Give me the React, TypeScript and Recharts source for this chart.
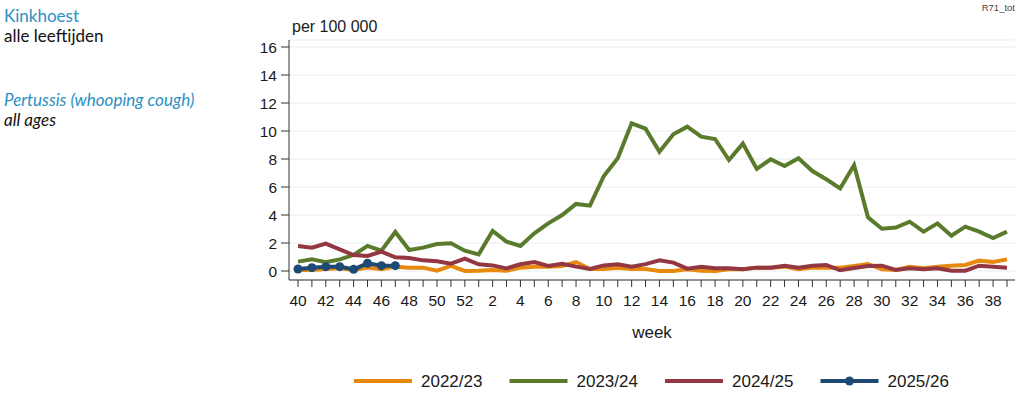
import React from "react";
import { LineChart, Line, XAxis, YAxis, CartesianGrid } from "recharts";

// week numbers, season runs from week 40 to week 39
const weeks = [
  "40", "41", "42", "43", "44", "45", "46", "47", "48", "49", "50", "51", "52",
  "1", "2", "3", "4", "5", "6", "7", "8", "9", "10", "11", "12", "13",
  "14", "15", "16", "17", "18", "19", "20", "21", "22", "23", "24", "25", "26",
  "27", "28", "29", "30", "31", "32", "33", "34", "35", "36", "37", "38", "39",
];

const season2022 = [
  0.07, 0.07, 0.14, 0.19, 0.07, 0.24, 0.12, 0.31, 0.24, 0.24, 0.02, 0.36, 0,
  0.02, 0.07, 0.02, 0.24, 0.31, 0.31, 0.36, 0.64, 0.14, 0.14, 0.24, 0.14, 0.14,
  0, 0, 0.12, 0.02, 0, 0.12, 0.12, 0.24, 0.24, 0.31, 0.12, 0.24, 0.24,
  0.24, 0.36, 0.5, 0.12, 0.07, 0.31, 0.19, 0.31, 0.38, 0.43, 0.74, 0.64, 0.83,
];

const season2023 = [
  0.67, 0.83, 0.62, 0.83, 1.14, 1.79, 1.45, 2.79, 1.5, 1.67, 1.93, 1.98, 1.45,
  1.19, 2.86, 2.1, 1.79, 2.69, 3.4, 4.0, 4.79, 4.67, 6.79, 8.05, 10.55, 10.17,
  8.52, 9.76, 10.31, 9.6, 9.43, 7.93, 9.1, 7.29, 7.98, 7.5, 8.05, 7.14, 6.55,
  5.9, 7.57, 3.83, 3.02, 3.1, 3.52, 2.81, 3.4, 2.52, 3.17, 2.81, 2.36, 2.81,
];

const season2024 = [
  1.79, 1.67, 1.95, 1.55, 1.14, 1.07, 1.38, 0.98, 0.93, 0.76, 0.69, 0.52, 0.88,
  0.48, 0.4, 0.19, 0.48, 0.64, 0.36, 0.52, 0.31, 0.14, 0.4, 0.48, 0.31, 0.49,
  0.76, 0.6, 0.17, 0.31, 0.19, 0.19, 0.12, 0.24, 0.24, 0.38, 0.24, 0.38, 0.43,
  0.05, 0.21, 0.36, 0.38, 0.07, 0.19, 0.12, 0.19, 0.02, 0.02, 0.38, 0.31, 0.24,
];

const season2025 = [0.14, 0.24, 0.31, 0.31, 0.12, 0.55, 0.38, 0.38];

const yTicks = [0, 2, 4, 6, 8, 10, 12, 14, 16];

const series = [
  { key: "s2022", name: "2022/23", color: "#E8890F", dot: false },
  { key: "s2023", name: "2023/24", color: "#5A7B2C", dot: false },
  { key: "s2024", name: "2024/25", color: "#933842", dot: false },
  { key: "s2025", name: "2025/26", color: "#1D4A75", dot: true },
];

const data = weeks.map((w, i) => ({
  week: w,
  s2022: season2022[i],
  s2023: season2023[i],
  s2024: season2024[i],
  s2025: i < season2025.length ? season2025[i] : null,
}));

const chartFont = "'Liberation Sans', Arial, sans-serif";
const sideFont = "Lato, 'Open Sans', sans-serif";
const axisColor = "#333";

export default function App() {
  return (
    <div style={{ position: "relative", width: 1024, height: 395, background: "#fff" }}>
      <style>{`body{margin:0}`}</style>
      <LineChart
        width={1024}
        height={395}
        data={data}
        margin={{ top: 40, right: 9, left: 0, bottom: 0 }}
        style={{ fontFamily: chartFont }}
      >
        <CartesianGrid vertical={false} stroke="#e5eded" />
        <XAxis
          dataKey="week"
          height={115}
          interval={0}
          padding={{ left: 9, right: 8 }}
          tickFormatter={(v: string, i: number) => (i % 2 === 0 ? v : "")}
          tickSize={7}
          tickMargin={8}
          stroke={axisColor}
          tick={{ fill: "#1a1a1a", fontSize: 15.5 }}
          label={{ value: "week", position: "insideTop", offset: 46, fill: "#1a1a1a", fontSize: 17 }}
        />
        <YAxis
          width={289}
          domain={[-0.643, 16.5]}
          ticks={yTicks}
          tickSize={8}
          tickMargin={4}
          stroke={axisColor}
          tick={{ fill: "#1a1a1a", fontSize: 15.5 }}
        />
        {series.map((s) => (
          <Line
            key={s.key}
            type="linear"
            dataKey={s.key}
            name={s.name}
            stroke={s.color}
            strokeWidth={4}
            dot={s.dot ? { r: 4.5, fill: s.color, stroke: s.color, strokeWidth: 0 } : false}
            activeDot={false}
            isAnimationActive={false}
          />
        ))}
      </LineChart>

      <svg
        width={1024}
        height={395}
        style={{ position: "absolute", left: 0, top: 0, pointerEvents: "none" }}
      >
        <text x={4} y={22} fontFamily={sideFont} fontSize={17} fill="#2b90c3">
          Kinkhoest
        </text>
        <text x={4} y={42} fontFamily={sideFont} fontSize={17} fill="#111">
          alle leeftijden
        </text>
        <text x={4} y={106} fontFamily={sideFont} fontSize={17} fontStyle="italic" fill="#2b90c3">
          Pertussis (whooping cough)
        </text>
        <text x={4} y={126} fontFamily={sideFont} fontSize={17} fontStyle="italic" fill="#111">
          all ages
        </text>
        <text x={292} y={32} fontFamily={chartFont} fontSize={16} fill="#1a1a1a">
          per 100 000
        </text>
        <text x={1015} y={11} fontFamily={chartFont} fontSize={9.5} fill="#444" textAnchor="end">
          R71_tot
        </text>

        {series.map((s, i) => {
          const x0 = 354 + i * 155.5;
          return (
            <g key={s.key}>
              <line x1={x0} y1={381} x2={x0 + 58} y2={381} stroke={s.color} strokeWidth={4} />
              {s.dot && <circle cx={x0 + 29} cy={381} r={4.5} fill={s.color} />}
              <text x={x0 + 67} y={387} fontFamily={chartFont} fontSize={17} fill="#1a1a1a">
                {s.name}
              </text>
            </g>
          );
        })}
      </svg>
    </div>
  );
}
